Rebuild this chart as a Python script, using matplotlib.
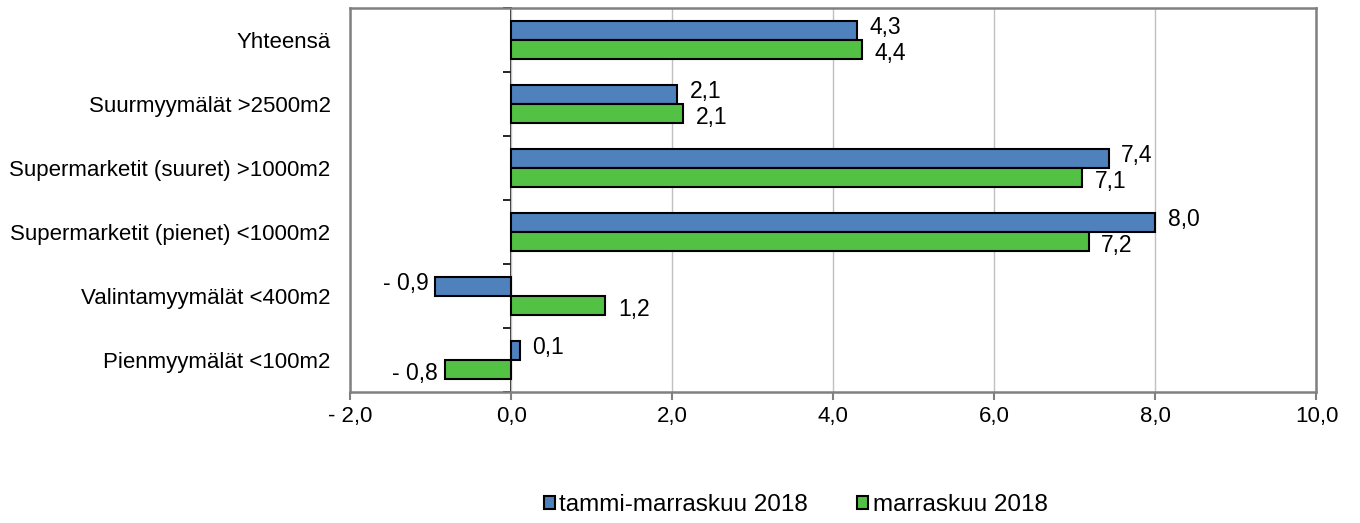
import matplotlib.pyplot as plt
import numpy as np
from matplotlib.ticker import FuncFormatter

plt.rcParams["font.family"] = ["Liberation Sans", "DejaVu Sans"]

categories = ["Yhteensä", "Suurmyymälät >2500m2", "Supermarketit (suuret) >1000m2",
              "Supermarketit (pienet) <1000m2", "Valintamyymälät <400m2", "Pienmyymälät <100m2"]
tammi_marras = [4.30, 2.06, 7.42, 8.00, -0.94, 0.11]
marras = [4.36, 2.14, 7.09, 7.17, 1.17, -0.82]
series_names = ["tammi-marraskuu 2018", "marraskuu 2018"]

blue = "#4f81bd"
green = "#52c144"
fs = 16


def fi(v):
    s = f"{abs(v):.1f}".replace(".", ",")
    return "- " + s if round(v, 1) < 0 else s


fig = plt.figure(figsize=(13.6, 5.23), dpi=100)
ax = fig.add_axes([0.2574, 0.2505, 0.968 - 0.2574, 0.9847 - 0.2505])

y = np.arange(len(categories))
h = 0.29
b1 = ax.barh(y - h / 2, tammi_marras, height=h, color=blue, edgecolor="black", linewidth=1.5,
             label=series_names[0], zorder=3)
b2 = ax.barh(y + h / 2, marras, height=h, color=green, edgecolor="black", linewidth=1.5,
             label=series_names[1], zorder=3)

# data labels beside the bar ends
for bars, vals, dy in [(b1, tammi_marras, 2), (b2, marras, -3)]:
    for bar, v in zip(bars, vals):
        cy = bar.get_y() + bar.get_height() / 2
        if v >= 0:
            ax.annotate(fi(v), (v, cy), xytext=(9, dy), textcoords="offset points",
                        ha="left", va="center", fontsize=fs + 0.5)
        else:
            ax.annotate(fi(v), (v, cy), xytext=(-5, dy), textcoords="offset points",
                        ha="right", va="center", fontsize=fs + 0.5)

ax.set_xlim(-2, 10)
ax.set_ylim(len(categories) - 0.5, -0.5)
ax.set_xticks(np.arange(-2, 11, 2))
ax.xaxis.set_major_formatter(FuncFormatter(lambda v, p: fi(v)))
ax.set_yticks(y)
ax.set_yticklabels(categories)
ax.tick_params(axis="y", length=0, pad=14, labelsize=fs)
ax.tick_params(axis="x", direction="out", length=6, width=1.5, color="#808080", pad=4, labelsize=fs)

ax.grid(axis="x", color="#c0c0c0", linewidth=1, zorder=0)
for s in ax.spines.values():
    s.set_color("#808080")
    s.set_linewidth(1.8)

# category axis drawn at zero with ticks on band borders
sec = ax.secondary_yaxis(0, transform=ax.transData)
sec.set_yticks(np.arange(len(categories) + 1) - 0.5)
sec.set_yticklabels([])
sec.tick_params(length=6, width=1.2, color="black")
sec.spines["left"].set_color("black")
sec.spines["left"].set_linewidth(1.2)

fig.legend(handles=[b1, b2], loc="center", bbox_to_anchor=(0.585, 0.034), ncol=2,
           frameon=False, fontsize=17.5, handlelength=0.45, handleheight=0.45,
           handletextpad=0.2, columnspacing=2.0)

fig.savefig("out.png", dpi=100)
plt.close(fig)
